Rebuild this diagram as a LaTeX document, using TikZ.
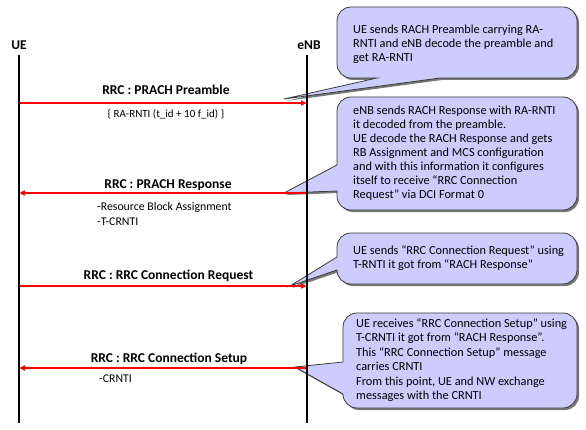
\documentclass[tikz,border=0pt]{standalone}
\usepackage{fontspec}
\setmainfont{Carlito}
\usetikzlibrary{arrows.meta}
\definecolor{cfill}{RGB}{204,204,255}
\definecolor{cedge}{RGB}{60,60,60}
\definecolor{cshadow}{RGB}{120,120,120}
\tikzset{
  callout/.style={fill=cfill, draw=cedge, line width=0.8pt,
    preaction={fill=cshadow, transform canvas={shift={(2pt,-2pt)}}}},
  ctext/.style={anchor=west, inner sep=0pt, align=left,
    font=\fontsize{12.3}{14}\selectfont},
  lifeline/.style={line width=2.2pt, black},
  msg/.style={line width=1.6pt, red, -{Triangle[length=6pt,width=5pt]}},
  msglabel/.style={font=\fontsize{13.5}{15}\selectfont\bfseries, inner sep=0pt},
  subtext/.style={font=\fontsize{11.8}{15}\selectfont, inner sep=0pt, align=left},
  actor/.style={font=\fontsize{13.5}{15}\selectfont\bfseries, inner sep=0pt}
}
\begin{document}
\begin{tikzpicture}[x=1pt,y=1pt]
\useasboundingbox[fill=white] (0,0) rectangle (586,429);

% callouts
\path[callout] (351,422) -- (563,422) arc[start angle=90,end angle=0,radius=14pt]
  -- (577,365) arc[start angle=0,end angle=-90,radius=14pt]
  -- (440,351) -- (284,330) -- (377,351)
  -- (351,351) arc[start angle=270,end angle=180,radius=14pt]
  -- (337,408) arc[start angle=180,end angle=90,radius=14pt] -- cycle;
\path[callout] (351,332) -- (563,332) arc[start angle=90,end angle=0,radius=14pt]
  -- (577,233) arc[start angle=0,end angle=-90,radius=14pt]
  -- (351,219) arc[start angle=270,end angle=180,radius=14pt]
  -- (337,238) -- (284,236) -- (337,264)
  -- (337,318) arc[start angle=180,end angle=90,radius=14pt] -- cycle;
\path[callout] (351,196) -- (563,196) arc[start angle=90,end angle=0,radius=14pt]
  -- (577,159) arc[start angle=0,end angle=-90,radius=14pt]
  -- (351,145) arc[start angle=270,end angle=180,radius=14pt]
  -- (290,143) -- (337,172)
  -- (337,182) arc[start angle=180,end angle=90,radius=14pt] -- cycle;
\path[callout] (357,116) -- (563,116) arc[start angle=90,end angle=0,radius=14pt]
  -- (577,35) arc[start angle=0,end angle=-90,radius=14pt]
  -- (357,21) arc[start angle=270,end angle=180,radius=14pt]
  -- (295,62) -- (343,67)
  -- (343,102) arc[start angle=180,end angle=90,radius=14pt] -- cycle;

\node[ctext] (c1t) at (353,385) {UE sends RACH Preamble carrying RA-\\RNTI and eNB decode the preamble and\\get RA-RNTI};
\node[ctext] (c2t) at (353,275.5) {eNB sends RACH Response with RA-RNTI\\it decoded from the preamble.\\UE decode the RACH Response and gets\\RB Assignment and MCS configuration\\and with this information it configures\\itself to receive “RRC Connection\\Request” via DCI Format 0};
\node[ctext] (c3t) at (353,171) {UE sends “RRC Connection Request” using\\T-RNTI it got from “RACH Response”};
\node[ctext, font=\fontsize{12.3}{14.5}\selectfont] (c4t) at (356,69) {UE receives “RRC Connection Setup” using\\T-CRNTI it got from “RACH Response”.\\This “RRC Connection Setup” message\\carries CRNTI\\From this point, UE and NW exchange\\messages with the CRNTI};

% actors and lifelines
\node[actor] (ue) at (19,384) {UE};
\node[actor] (enb) at (309,384) {eNB};
\coordinate (uetop) at (19,374);
\coordinate (uebot) at (19,6);
\coordinate (enbtop) at (307,374);
\coordinate (enbbot) at (307,6);
\foreach \n/\y in {1/326,2/236,3/143,4/61}{
  \coordinate (u\n) at (19,\y);
  \coordinate (e\n) at (307,\y);
}

% messages
\draw[msg] (u1) -- (e1);
\draw[msg] (e2) -- (u2);
\draw[msg] (u3) -- (e3);
\draw[msg] (e4) -- (u4);

\draw[lifeline] (uetop) -- (uebot);
\draw[lifeline] (enbtop) -- (enbbot);

\node[msglabel] (l1) at (166,339) {RRC : PRACH Preamble};
\node[subtext, font=\fontsize{11}{12}\selectfont] (s1) at (166,315) {\{ RA-RNTI (t\_id + 10 f\_id) \}};
\node[msglabel] (l2) at (168,244) {RRC : PRACH Response};
\node[subtext, anchor=west] (s2) at (97,215.5) {-Resource Block Assignment\\-T-CRNTI};
\node[msglabel] (l3) at (168.5,153) {RRC : RRC Connection Request};
\node[msglabel] (l4) at (169,70) {RRC : RRC Connection Setup};
\node[subtext, anchor=west] (s4) at (99,50) {-CRNTI};
\end{tikzpicture}
\end{document}
